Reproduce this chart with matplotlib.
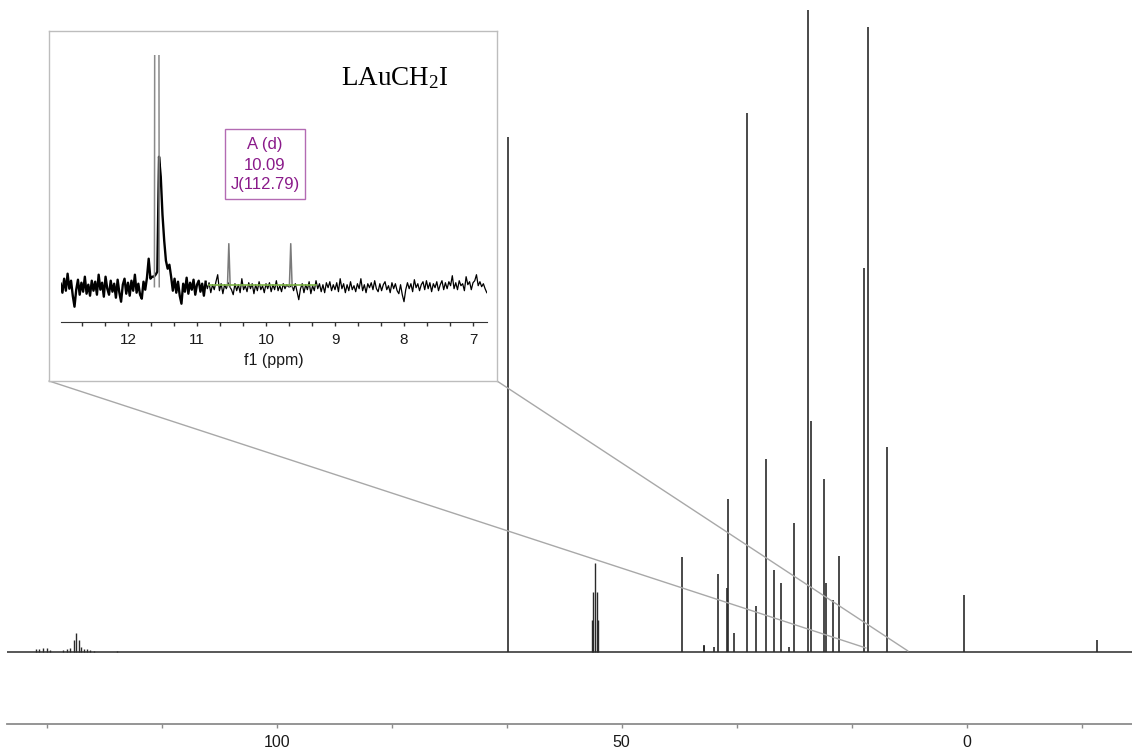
import numpy as np
import matplotlib
matplotlib.use("Agg")
import matplotlib.pyplot as plt
from matplotlib.ticker import MultipleLocator, FixedLocator
from matplotlib.patches import Rectangle, ConnectionPatch

plt.rcParams['font.family'] = ['Liberation Sans', 'DejaVu Sans']
plt.rcParams['mathtext.fontset'] = 'custom'
plt.rcParams['mathtext.rm'] = 'Liberation Serif'
plt.rcParams['mathtext.it'] = 'Liberation Serif:italic'

# ---------------- 13C spectrum: peak list (ppm, intensity) ----------------
aromatic_ppm = [134.93, 134.41, 133.91, 133.33, 132.86, 130.97, 130.43, 129.96,
                129.38, 129.09, 128.70, 128.32, 127.93, 127.45, 127.06, 126.43, 123.19]
aromatic_int = [3, 3, 4, 4, 2, 2, 3, 4, 12, 19, 12, 5, 3, 3, 2, 1, 1]

solvent_ppm = [54.31, 54.09, 53.87, 53.65, 53.43]
solvent_int = [32, 60, 89, 60, 32]

aliphatic_ppm = [66.48, 41.22, 38.10, 38.02, 36.58, 36.09, 34.78, 34.55, 33.72,
                 31.88, 30.58, 29.13, 27.88, 26.87, 25.75, 25.03, 22.96, 22.57,
                 20.64, 20.43, 19.33, 18.55, 14.88, 14.23, 11.51, 0.43, -18.93]
aliphatic_int = [515, 95, 7, 6, 5, 78, 64, 153, 19,
                 539, 46, 193, 82, 69, 5, 129, 642, 231,
                 173, 69, 52, 96, 384, 625, 205, 57, 12]

main_ticks = [100, 50, 0]

# ---------------- expansion 13.0 - 6.8 ppm ----------------
inset_start = 12.975
inset_step = 0.025
inset_noise = [
    3, -6, 8, -4, 13, -2, 6, -9, -20, -3, 7, -8, 4, -5, 10, -7, 2, -9, 6, -4,
    5, -8, 12, -3, 4, -10, 10, -2, -8, 6, -5, 3, -11, 7, -6, -15, 2, 8, -7, 4,
    -9, 6, -4, 12, -6, 3, -8, -12, 5, -3, 9, 28, 8, 10, 10, 12, 15, 130, 110, 72,
    46, 26, 18, 22, 10, -4, 8, -6, 5, -9, -17, 3, -5, 9, -7, 4, -3, 7, -8, 2,
    6, -5, 3, -9, 5, -2, 4, -6, 2, -3, 5, 12, -4, 3, -7, 2, -2, 4, 0, -3,
    -8, 3, -4, 2, -6, 8, -3, 1, -5, 4, -2, 3, -7, 2, -4, 5, -3, 1, -6, 3,
    -2, 4, -5, 2, -3, 6, -4, 1, -5, 3, -2, 2, 0, 0, 2, -4, 3, -5, -13, -2,
    3, -6, 2, -3, 5, -7, 1, -4, 6, -2, 3, -5, 2, -6, 4, -1, 5, -4, 2, -3,
    4, -5, 8, -2, 3, -6, 2, -4, 5, -3, 1, -5, 3, -2, 8, -4, 2, -6, 3, -1,
    4, -3, 6, -2, -5, 3, -4, 2, 5, -3, 1, -6, 4, -2, 3, -4, -7, 2, -8, -15,
    -3, 4, -2, 3, -5, 7, -1, 3, -4, 2, 5, -3, 6, -2, 4, -5, 3, -1, 5, -4,
    2, 6, -3, 4, -2, 5, 1, 11, -2, 4, -3, 6, 1, 3, -4, 10, 2, 5, -3, 4,
    6, 12, 1, 5, 0, 3, -2, -6,
]
dense_count = 85            # points recorded with the denser trace

big_peak_ppm = 11.582       # off-scale signal
big_peak_int = 2000

doublet_center = 10.09      # ppm
doublet_J = 112.79          # Hz
spectrometer_mhz = 125.7
doublet_int = [43, 43]

baseline_region = [10.83, 9.27]
inset_ticks = [12, 11, 10, 9, 8, 7]

# ---------------- figure ----------------
W, H = 1132, 749
fig = plt.figure(figsize=(W / 100, H / 100), dpi=100)


def rect(x0, y0, x1, y1):
    return [x0 / W, 1 - y1 / H, (x1 - x0) / W, (y1 - y0) / H]


ax = fig.add_axes(rect(7, 0, 1132, 724))
ax.set_xlim(139.09, -23.96)
ax.set_ylim(-72, 652)
line_col = '#2a2a2a'
ax.axhline(0, color=line_col, lw=1.1, zorder=2)
ax.vlines(aromatic_ppm, 0, aromatic_int, color=line_col, lw=1.0)
ax.vlines(solvent_ppm, 0, solvent_int, color=line_col, lw=1.0)
ax.vlines(aliphatic_ppm, 0, aliphatic_int, color=line_col, lw=1.2)

for s in ('left', 'right', 'top'):
    ax.spines[s].set_visible(False)
ax.spines['bottom'].set_color('#8c8c8c')
ax.spines['bottom'].set_linewidth(1.3)
ax.set_yticks([])
ax.xaxis.set_major_locator(FixedLocator(main_ticks))
ax.xaxis.set_minor_locator(MultipleLocator(50 / 3))
ax.tick_params(axis='x', which='both', direction='out', length=3, width=1,
               color='#8c8c8c', labelsize=11.5, pad=5, labelcolor='#1a1a1a')
ax.patch.set_visible(False)

# frame around the expansion
frame = fig.add_axes(rect(49, 31, 497, 381))
frame.set_zorder(2)
frame.set_facecolor('white')
frame.set_xticks([])
frame.set_yticks([])
for s in frame.spines.values():
    s.set_color('#bdbdbd')
    s.set_linewidth(1.0)

ins = fig.add_axes(rect(60.7, 55, 487.3, 322.3))
ins.set_zorder(3)
ins.patch.set_visible(False)
ins.set_xlim(12.975, 6.793)
ins.set_ylim(-35.6, 231.7)

noise_ppm = inset_start - inset_step * np.arange(len(inset_noise))
ins.plot(noise_ppm[:dense_count], inset_noise[:dense_count], color='black', lw=1.7)
ins.plot(noise_ppm[dense_count - 1:], inset_noise[dense_count - 1:], color='black', lw=0.9)

peak_half = 0.035
ins.plot([big_peak_ppm + peak_half, big_peak_ppm, big_peak_ppm - peak_half],
         [0, big_peak_int, 0], color='#8a8a8a', lw=1.1)

half_split = doublet_J / spectrometer_mhz / 2
doublet_ppm = [doublet_center + half_split, doublet_center - half_split]
line_half = 0.02
for p, h in zip(doublet_ppm, doublet_int):
    ins.plot([p + line_half, p, p - line_half], [0, h, 0], color='#7a7a7a', lw=1.1)

ins.plot(baseline_region, [1.5, 1.5], color='#7cb342', lw=1.2)

for s in ('left', 'right', 'top'):
    ins.spines[s].set_visible(False)
ins.spines['bottom'].set_color('#333333')
ins.set_yticks([])
ins.xaxis.set_major_locator(FixedLocator(inset_ticks))
ins.xaxis.set_minor_locator(MultipleLocator(1 / 3))
ins.tick_params(axis='x', which='both', direction='out', length=3, width=1,
                color='#333333', labelsize=11, pad=5, labelcolor='#1a1a1a')
ins.set_xlabel('f1 (ppm)', fontsize=11.5, labelpad=4, color='#1a1a1a')

# multiplet annotation
fig.add_artist(Rectangle((225 / W, 1 - 199.3 / H), 80.3 / W, 70.6 / H,
                         transform=fig.transFigure, facecolor='white',
                         edgecolor='#b36bb3', lw=1.0, zorder=4))
ann_col = '#8a1a8a'
for txt, yy in zip(['A (d)', f'{doublet_center:.2f}', f'J({doublet_J:.2f})'],
                   [145, 165, 184]):
    fig.text(265 / W, 1 - yy / H, txt, ha='center', va='center', fontsize=12,
             color=ann_col, zorder=5)

fig.text(341 / W, 1 - 78 / H, r'LAuCH$_2$I', fontsize=19.5,
         family='Liberation Serif', va='center', ha='left', color='black', zorder=5)

# connector lines from the expansion frame to the spectrum
for corner, target in [((0, 0), (14.59, 4)), ((1, 0), (8.51, 1))]:
    con = ConnectionPatch(xyA=corner, coordsA=frame.transAxes,
                          xyB=target, coordsB=ax.transData,
                          color='#a8a8a8', lw=1.0)
    con.set_zorder(1)
    fig.add_artist(con)

fig.savefig('out.png', dpi=100)
